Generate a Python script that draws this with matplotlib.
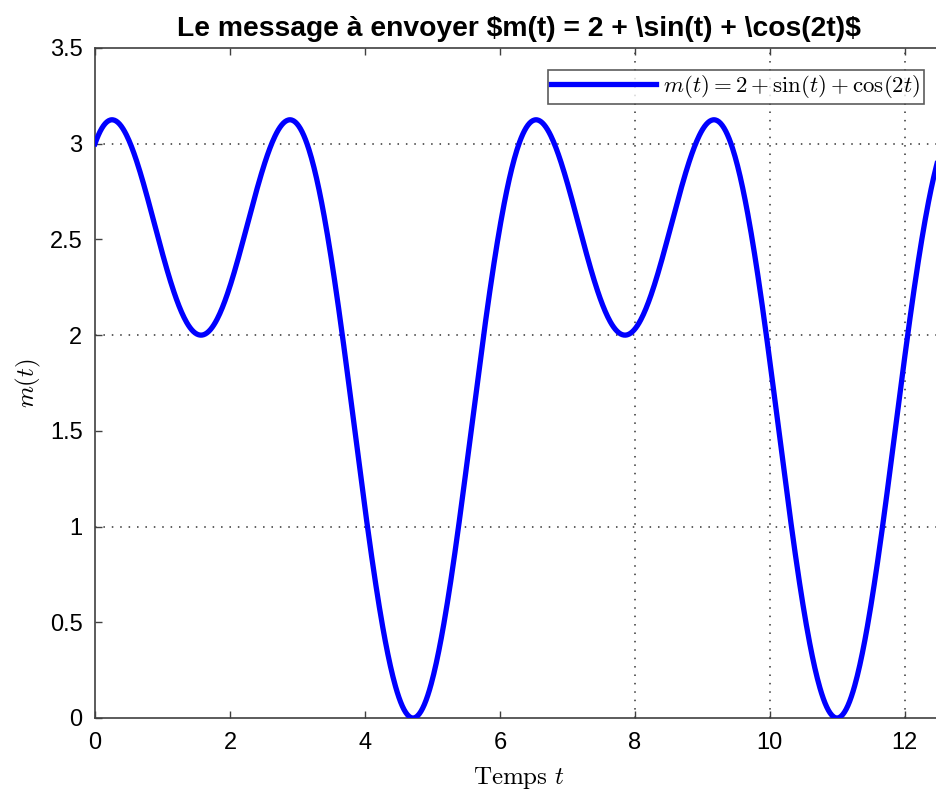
import numpy as np
import matplotlib
matplotlib.use("Agg")
import matplotlib.pyplot as plt

# Message signal m(t) = 2 + sin(t) + cos(2t), sampled over two periods
t = np.linspace(0, 4 * np.pi, 1000)
m = 2 + np.sin(t) + np.cos(2 * t)

x_ticks = [0, 2, 4, 6, 8, 10, 12]
y_ticks = [0, 0.5, 1, 1.5, 2, 2.5, 3, 3.5]
grid_x = [8, 10, 12]
grid_y = [1, 2, 3]

title_text = r"Le message à envoyer \$m(t) = 2 + \sin(t) + \cos(2t)\$"
legend_text = r"$m(t) = 2 + \sin(t) + \cos(2t)$"

plt.rcParams["font.family"] = ["Liberation Sans", "DejaVu Sans"]
plt.rcParams["mathtext.fontset"] = "cm"

fig = plt.figure(figsize=(9.36, 7.92), dpi=100)
ax = fig.add_axes([95 / 936, 1 - 718 / 792, 848 / 936, 670 / 792])

for gx in grid_x:
    ax.axvline(gx, color="0.2", linestyle=(0, (1, 4.5)), linewidth=1.1, zorder=1)
for gy in grid_y:
    ax.axhline(gy, color="0.2", linestyle=(0, (1, 4.5)), linewidth=1.1, zorder=1)

ax.plot(t, m, color="#0000ff", linewidth=3.8, label=legend_text, zorder=3)

ax.set_xlim(0, 4 * np.pi)
ax.set_ylim(0, 3.5)
ax.set_xticks(x_ticks)
ax.set_yticks(y_ticks)
ax.set_xticklabels([str(v) for v in x_ticks])
ax.set_yticklabels([f"{v:g}" for v in y_ticks])
ax.tick_params(direction="in", length=5, width=1, color="0.25",
               labelsize=17, top=True, right=False)
ax.tick_params(axis="x", pad=10)
ax.tick_params(axis="y", pad=9)

for s in ax.spines.values():
    s.set_color("0.25")
    s.set_linewidth(1.2)

ax.set_title(title_text, fontsize=20.3, fontweight="bold", pad=9)
ax.set_xlabel(r"$\mathrm{Temps}\ t$", fontsize=18, labelpad=8)
ax.set_ylabel(r"$m(t)$", fontsize=18, labelpad=5)

leg = ax.legend(loc="upper right", bbox_to_anchor=((924 - 95) / 848, 1 - 22 / 670),
                fontsize=16.5, frameon=True, fancybox=False, borderpad=0.15,
                handlelength=4.6, handletextpad=0.3, borderaxespad=0)
leg.get_frame().set_edgecolor("0.2")
leg.get_frame().set_linewidth(1.2)

fig.savefig("out.png", dpi=100)
